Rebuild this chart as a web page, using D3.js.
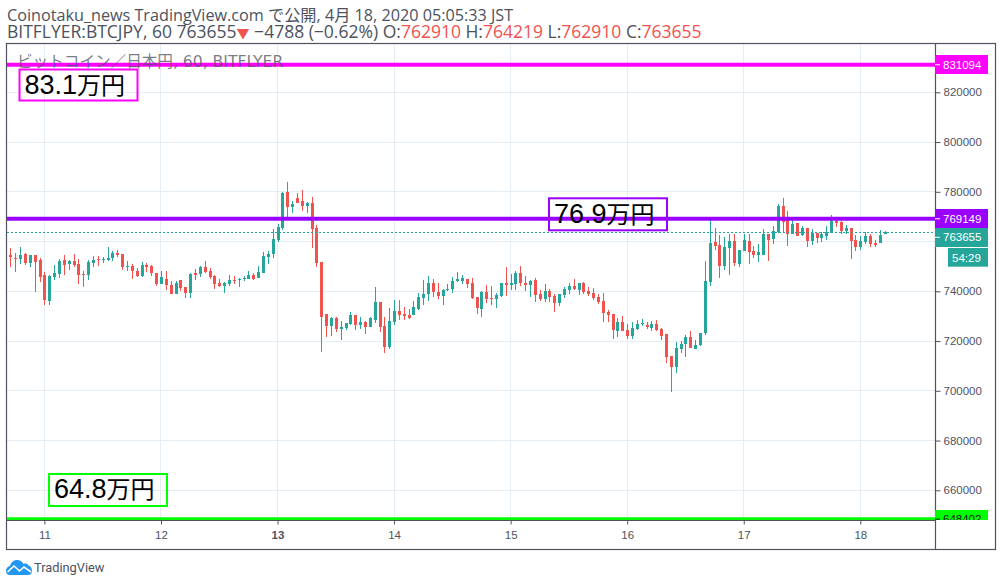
<!DOCTYPE html>
<html>
<head>
<meta charset="utf-8">
<script src="https://cdn.jsdelivr.net/npm/d3@7"></script>
<style>
  html, body { margin: 0; padding: 0; background: #fff; }
  svg { display: block; }
</style>
</head>
<body>
<div id="chart"></div>
<script>
// hourly candles, the first one is 7 hours before the "11" tick
const firstHour = -7;

const opens = [
  754600,753500,753000,755000,751400,754600,752600,746600,736100,745800,
  747000,752600,751000,752200,751000,747000,746600,751400,753000,752600,
  752600,753400,755400,755000,749800,750200,748200,746200,750600,750200,
  747400,742900,744900,
  742500,738900,744500,741700,739300,747400,747000,749800,748200,746200,
  743300,742100,742900,744500,744800,744900,744900,746600,745300,747400,
  753800,755000,760600,765400,779900,773900,777500,776300,774300,775500,
  765400,751800,730900,726100,729300,
  724800,725200,726900,730500,726500,727700,725700,728500,735700,726100,
  717600,727700,732100,730900,730500,730500,732900,737300,738900,743300,
  739700,738100,740500,740900,744100,744100,744900,743300,737700,732900,
  739700,737300,736900,738100,743300,
  742500,742900,747400,743300,742500,744500,738900,736900,740100,738100,
  735300,738500,740500,742100,740500,743300,740100,739300,737700,736100,
  731700,730900,724000,727700,724400,722000,724800,726900,726500,725200,
  726900,724800,722800,714000,709600,716800,718800,721600,716800,718400,
  723200,743700,759800,758600,750200,757400,760200,751000,756200,760200,
  756200,754600,754600,763000,761000,763800,774300,768700,763000,767500,
  762600,765400,760200,763400,761400,762200,763400,768300,767900,764200,
  765400,760600,757800,759800,762200,759400,759400,762910
];
const highs = [
  757400,755400,757800,755400,754600,754600,753400,747800,746600,750600,
  753000,754600,752600,755000,753000,748200,752600,754200,754200,753800,
  757800,756200,756600,755000,752200,751000,749400,751800,751400,750600,
  747400,748200,748200,
  744100,744100,744500,741700,747400,749000,750200,752200,749400,746600,
  744900,743700,746600,746200,745300,746200,748200,747400,750200,755800,
  756200,765000,767100,779900,783900,776300,779500,780700,775900,777900,
  766700,751800,730900,729700,729700,
  728100,727300,731700,730500,729700,728100,729700,741700,735700,729700,
  733300,736500,736500,733700,732900,736100,739300,744500,746200,744900,
  743300,740900,742900,745800,747800,746600,744900,745300,737700,740100,
  742500,742100,739300,743300,749800,
  747000,748200,750200,746200,744500,745300,740500,742900,740900,738900,
  738900,741700,743300,744900,743300,743700,741700,741300,738900,739300,
  732500,730900,729300,730100,726900,727700,728500,728900,727700,728100,
  728500,725200,722800,714000,719600,720000,722400,724000,720400,723200,
  752200,769100,765400,762600,761800,763000,763000,756600,763000,763000,
  758200,759000,765000,763000,766300,775100,777500,772300,769100,767500,
  766300,765400,765000,763400,763800,766300,770700,769900,768300,766700,
  765400,762600,762200,763800,763000,760600,764600,764219
];
const lows = [
  749800,747800,751000,750600,749800,739700,743700,734500,734500,744500,
  745300,746600,748600,749800,742900,741700,744500,749800,750200,751400,
  752200,752200,753800,748600,748200,744900,745800,745800,747800,746200,
  742100,742900,740500,
  738900,738900,740100,737300,737300,744500,745800,747400,744900,740900,
  741700,739300,742100,742900,741700,744100,744900,744500,745300,747400,
  751000,753400,759800,764600,769500,771500,775500,772300,771500,757400,
  749800,715600,721600,722000,723600,
  720400,724400,726500,724400,724800,722800,725700,727300,723600,715200,
  716800,726500,728500,728500,728900,730500,732500,734500,736100,737700,
  736900,734500,740100,739300,743700,742900,741300,736900,730900,729700,
  735300,734500,733300,737700,738100,
  740500,740500,742100,740100,737700,735700,736100,735700,735700,731700,
  734100,737300,738900,740500,738500,738900,738100,736500,734900,727700,
  727700,720800,721600,724000,720800,720800,724400,726100,724800,724000,
  724000,720400,711200,699500,707200,715200,713600,717200,716800,718000,
  722400,742100,756600,745300,748600,746600,750200,749800,756200,751000,
  753400,751800,754600,752200,759000,763400,763400,758200,763000,762200,
  762200,757800,758600,759400,759800,760600,763400,765900,763000,763000,
  753000,756200,756600,759000,757800,757800,759400,762910
];
const closes = [
  753800,753100,754600,751400,754600,751800,745800,736500,746200,747400,
  752200,750600,752200,750600,746600,746600,751800,752600,752600,753000,
  753400,755400,754600,749800,750200,748200,746200,750600,749800,747400,
  742900,745800,742500,
  738900,743300,741300,739300,747000,746600,749800,747800,745800,742900,
  742100,743300,744500,744100,745100,745300,746600,744900,747800,754200,
  755000,761000,765900,779500,773900,775100,775500,774300,775500,765000,
  751400,729700,726100,729300,724800,
  725700,727300,730500,726500,727700,725700,729300,735700,725700,717600,
  728100,732100,730500,730100,729300,733700,737700,738900,743300,739700,
  738100,740500,740900,744100,744900,745300,742900,737300,733300,739700,
  736900,736900,738500,743300,742500,
  743300,747400,743300,742500,744100,738500,736900,740100,737700,735300,
  738900,740900,742100,740900,743300,739700,738900,737300,735700,731300,
  730500,724400,727700,724000,722000,725200,726900,727300,725700,726900,
  724400,722000,713600,709600,717200,718800,721600,717200,718400,723200,
  744100,759400,758200,750200,757800,760200,751400,756600,760600,755800,
  754600,755800,763000,760600,764200,774300,767900,763000,767100,762200,
  765400,760200,763400,761400,763000,763800,768300,767500,764200,765400,
  760200,757800,760200,762200,759000,758600,762600,763655
];

const dayLabels = ['11', '12', '13', '14', '15', '16', '17', '18'];
const dayHours = [0, 24, 48, 72, 96, 120, 144, 168];
const priceTicks = [660000, 680000, 700000, 720000, 740000, 760000, 780000, 800000, 820000];

const levelValues = [831094, 769149, 648402];
const levelColors = ['#ff00ff', '#9900ff', '#00ff00'];
const lastClose = 763655;

const UP = '#26a69a', DOWN = '#ef5350', AXIS = '#50535e', GRID = '#e3edf3';
const AXIS_FONT = '"Liberation Sans", Arial, sans-serif';
const HEAD_FONT = '"Open Sans", "Noto Sans CJK JP", sans-serif';
const plot = { left: 7, right: 935, top: 44, bottom: 520 };

const x = d3.scaleLinear().domain([0, 168]).range([44.4, 860.3]);
const y = d3.scaleLinear().domain([820000, 660000]).range([92.3, 490.3]);

const svg = d3.select('#chart').append('svg').attr('width', 1002).attr('height', 586)
  .attr('font-family', HEAD_FONT);

svg.append('clipPath').attr('id', 'plot-clip').append('rect')
  .attr('x', plot.left).attr('y', plot.top)
  .attr('width', plot.right - plot.left).attr('height', plot.bottom - plot.top);
svg.append('clipPath').attr('id', 'axis-clip').append('rect')
  .attr('x', plot.right).attr('y', plot.top)
  .attr('width', 60).attr('height', plot.bottom - plot.top);

const px = v => Math.floor(v) + 0.5;

// grid
const grid = svg.append('g').attr('clip-path', 'url(#plot-clip)').attr('shape-rendering', 'crispEdges');
grid.selectAll('.gy').data(priceTicks).join('line')
  .attr('x1', plot.left).attr('x2', plot.right)
  .attr('y1', d => px(y(d))).attr('y2', d => px(y(d)))
  .attr('stroke', GRID);
grid.selectAll('.gx').data(dayHours).join('line')
  .attr('x1', d => px(x(d))).attr('x2', d => px(x(d)))
  .attr('y1', plot.top).attr('y2', plot.bottom)
  .attr('stroke', GRID);

// candles
const candles = opens.map((o, i) => ({ hour: firstHour + i, o, h: highs[i], l: lows[i], c: closes[i] }));
const candleG = svg.append('g').attr('clip-path', 'url(#plot-clip)').attr('shape-rendering', 'crispEdges');
const color = d => (d.c >= d.o ? UP : DOWN);
candleG.selectAll('.wick').data(candles).join('rect')
  .attr('class', 'wick')
  .attr('x', d => Math.round(x(d.hour)))
  .attr('width', 1)
  .attr('y', d => y(d.h))
  .attr('height', d => y(d.l) - y(d.h))
  .attr('fill', color);
candleG.selectAll('.body').data(candles).join('rect')
  .attr('class', 'body')
  .attr('x', d => Math.round(x(d.hour)) - 1)
  .attr('width', 3)
  .attr('y', d => y(Math.max(d.o, d.c)))
  .attr('height', d => Math.max(1, Math.abs(y(d.o) - y(d.c))))
  .attr('fill', color);

// last price dotted line
svg.append('line')
  .attr('x1', plot.left).attr('x2', plot.right)
  .attr('y1', px(y(lastClose))).attr('y2', px(y(lastClose)))
  .attr('stroke', UP).attr('stroke-dasharray', '2 2');

// horizontal levels
svg.append('g').attr('clip-path', 'url(#plot-clip)').selectAll('line').data(levelValues).join('line')
  .attr('x1', plot.left).attr('x2', plot.right)
  .attr('y1', d => y(d)).attr('y2', d => y(d))
  .attr('stroke', (d, i) => levelColors[i]).attr('stroke-width', 4);

// legend line sits on top of the magenta level
svg.append('text').attr('x', 17).attr('y', 67)
  .attr('font-family', '"DejaVu Sans", "Noto Sans CJK JP", sans-serif')
  .attr('font-size', 15.6).attr('fill', '#4c525e').attr('fill-opacity', 0.75)
  .text('ビットコイン／日本円, 60, BITFLYER');

// frame
svg.append('rect').attr('x', 6.5).attr('y', 43.5).attr('width', 989).attr('height', 506)
  .attr('fill', 'none').attr('stroke', AXIS).attr('stroke-width', 1.2);

// price axis, 760000 stays hidden under the last price tag
const priceAxis = d3.axisRight(y).tickValues(priceTicks.filter(d => d !== 760000))
  .tickSize(5).tickPadding(3).tickFormat(d3.format('d'));
const priceG = svg.append('g').attr('transform', `translate(${plot.right + 0.5},0)`).call(priceAxis);
priceG.select('.domain').attr('d', `M0,${plot.top}V549`).attr('stroke', AXIS).attr('stroke-width', 1.2);
priceG.selectAll('line').attr('stroke', AXIS);
priceG.selectAll('text').attr('font-family', AXIS_FONT).attr('font-size', 11.5).attr('fill', AXIS);

// time axis
const timeAxis = d3.axisBottom(x).tickValues(dayHours).tickSize(4).tickPadding(6).tickFormat((d, i) => dayLabels[i]);
const timeG = svg.append('g').attr('transform', `translate(0,${plot.bottom + 0.5})`).call(timeAxis);
timeG.select('.domain').attr('d', `M${plot.left},0H${plot.right}`).attr('stroke', AXIS).attr('stroke-width', 1.2);
timeG.selectAll('line').attr('stroke', AXIS);
timeG.selectAll('text').attr('font-family', AXIS_FONT).attr('font-size', 11.5).attr('fill', AXIS)
  .attr('font-weight', (d, i) => (dayLabels[i] === '13' ? 'bold' : 'normal'));

// price labels on the axis
const tags = [
  { v: levelValues[0], fill: levelColors[0], text: '#fff', label: '831094' },
  { v: levelValues[1], fill: levelColors[1], text: '#fff', label: '769149' },
  { v: levelValues[2], fill: levelColors[2], text: '#131722', label: '648402' },
  { v: lastClose, fill: UP, text: '#fff', label: '763655' }
];
const tagG = svg.append('g').attr('clip-path', 'url(#axis-clip)');
tags.forEach(t => {
  const cy = t.label === '763655' ? 237.3 : y(t.v);
  tagG.append('rect').attr('x', plot.right).attr('y', cy - 9.3).attr('width', 53).attr('height', 18.6)
    .attr('fill', t.fill).attr('shape-rendering', 'crispEdges');
  tagG.append('line').attr('x1', plot.right).attr('x2', plot.right + 5).attr('y1', cy).attr('y2', cy)
    .attr('stroke', t.text);
  tagG.append('text').attr('x', 943).attr('y', cy + 4).attr('font-family', AXIS_FONT)
    .attr('font-size', 11.5).attr('fill', t.text).text(t.label);
});
svg.append('rect').attr('x', 948).attr('y', 248).attr('width', 40).attr('height', 18.7).attr('fill', UP);
svg.append('text').attr('x', 952).attr('y', 261.5).attr('font-family', AXIS_FONT)
  .attr('font-size', 11.5).attr('fill', '#fff').text('54:29');

// drawn price notes
const notes = [
  { num: '83.1', color: levelColors[0], x: 19.5, y: 69.5, w: 118, h: 31 },
  { num: '76.9', color: levelColors[1], x: 549, y: 198.3, w: 118, h: 32 },
  { num: '64.8', color: levelColors[2], x: 49, y: 474, w: 118, h: 32 }
];
notes.forEach(n => {
  svg.append('rect').attr('x', n.x).attr('y', n.y).attr('width', n.w).attr('height', n.h)
    .attr('fill', 'none').attr('stroke', n.color).attr('stroke-width', 2);
  const t = svg.append('text').attr('x', n.x + 5).attr('y', n.y + 24.3)
    .attr('font-family', '"Liberation Sans", "Noto Sans CJK JP", sans-serif').attr('fill', '#000');
  t.append('tspan').attr('font-size', 27).text(n.num);
  t.append('tspan').attr('font-size', 24).text('万円');
});

// header
const TXT = '#4c525e';
const head1 = svg.append('text').attr('x', 7).attr('y', 20.7).attr('font-size', 16.2).attr('fill', TXT)
  .text('Coinotaku_news TradingView.com で公開, 4月 18, 2020 05:05:33 JST');
const head = svg.append('text').attr('x', 7).attr('y', 37.5).attr('font-size', 17.5).attr('fill', TXT);
const part = (s, fill, size) => head.append('tspan').attr('fill', fill || TXT).attr('font-size', size || null).text(s);
part('BITFLYER:BTCJPY, 60 763655');
part('▼', DOWN, 13);
part(' −4788 (−0.62%) O:');
part('762910', DOWN);
part(' H:');
part('764219', DOWN);
part(' L:');
part('762910', DOWN);
part(' C:');
part('763655', DOWN);

// TradingView mark
const logo = svg.append('g').attr('transform', 'translate(6,559)');
logo.append('path').attr('fill', '#2196f3')
  .attr('d', 'M0,12 C0,9 2,7.5 4,7 C5,3 8,1 11,1 C14,1 16,2.5 17.5,5 C19,4 21.5,4.5 22.5,6.5 C25,7 26,9.5 26,12 C26,14.5 24.5,16 22,16 L4,16 C1.5,16 0,14.5 0,12 Z');
logo.append('path').attr('fill', 'none').attr('stroke', '#fff').attr('stroke-width', 1.6)
  .attr('d', 'M1.5,13 L8,7 L13.5,12 L18,8 L25,13');
svg.append('text').attr('x', 34).attr('y', 572).attr('font-family', '"Roboto", sans-serif')
  .attr('font-size', 12.8).attr('fill', TXT).text('TradingView');
</script>
</body>
</html>
